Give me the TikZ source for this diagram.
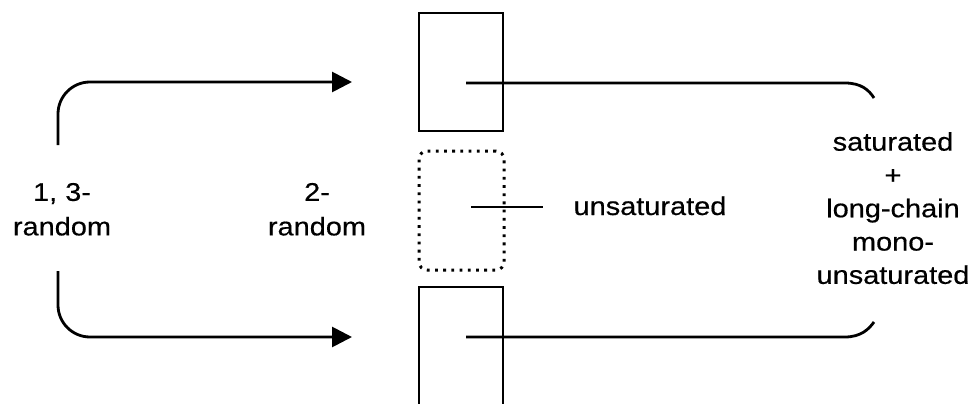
\documentclass[tikz,border=0pt]{standalone}
\usepackage{fontspec}
\setmainfont[FakeStretch=1.13,FakeBold=0.5]{Liberation Sans}
\usetikzlibrary{arrows.meta}
\begin{document}
\begin{tikzpicture}[x=1pt,y=-1pt,line width=2.8pt,
  lbl/.style={font=\fontsize{25.6}{34.5}\selectfont,align=center,inner sep=0pt},
  lblr/.style={font=\fontsize{25.6}{33.3}\selectfont,align=center,inner sep=0pt},
  solidbox/.style={draw,minimum width=84pt,inner sep=0pt},
  dotbox/.style={draw,minimum width=85pt,minimum height=119pt,inner sep=0pt,
    rounded corners=8pt,line width=3pt,dash pattern=on 2.8pt off 5.4pt},
  arr/.style={-{Triangle[length=20pt,width=20pt]},rounded corners=32pt},
  conn/.style={line cap=butt}]
\useasboundingbox (0,0) rectangle (978,404);
\clip (0,0) rectangle (978,404);
% boxes
\node[solidbox,minimum height=118pt] (boxT) at (461,72) {};
\node[dotbox] (boxM) at (461.5,210.5) {};
\node[solidbox,minimum height=130pt] (boxB) at (461,352) {};
% labels
\node[lbl,anchor=north] (l13) at (62,181.6) {1, 3-\\random};
\node[lbl,anchor=north] (l2) at (317,181.6) {2-\\random};
\node[lbl,anchor=base] (unsat) at (650,215) {unsaturated};
\node[lblr,anchor=north] (sat) at (893,130.7) {saturated\\+\\long-chain\\mono-\\unsaturated};
% coordinates
\coordinate (aTs) at (58,145);
\coordinate (aTe) at (352,82);
\coordinate (aBs) at (58,271);
\coordinate (aBe) at (352,337);
\coordinate (cT) at (466,83);
\coordinate (cM) at (471,207);
\coordinate (cMe) at (543,207);
\coordinate (cB) at (466,337);
\coordinate (brT) at (874,98);
\coordinate (brB) at (874,322);
% arrows
\draw[arr] (aTs) |- (aTe);
\draw[arr] (aBs) |- (aBe);
% connectors
\draw[conn] (cT) -- (845,83) .. controls (861,83) and (869,90) .. (brT);
\draw[conn] (cM) -- (cMe);
\draw[conn] (cB) -- (845,337) .. controls (861,337) and (869,329) .. (brB);
\end{tikzpicture}
\end{document}
